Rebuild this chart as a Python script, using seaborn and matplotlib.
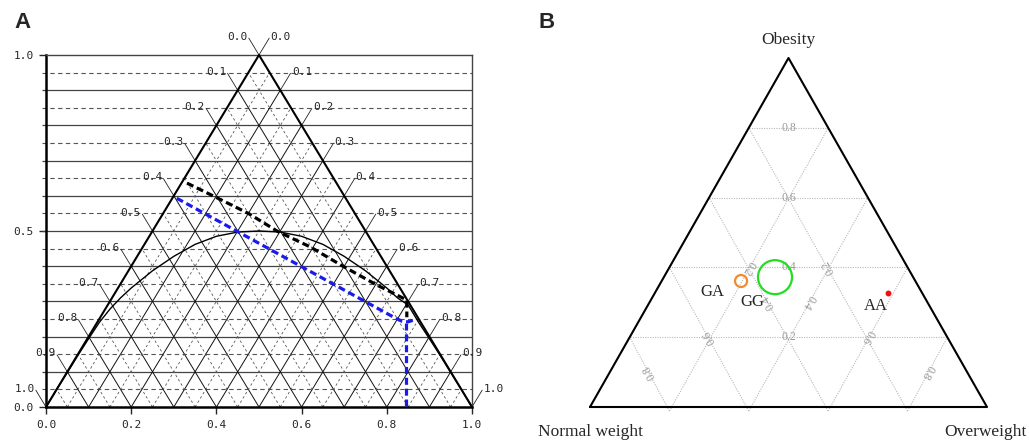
import numpy as np
import pandas as pd
import matplotlib
matplotlib.use("Agg")
import matplotlib.pyplot as plt
import seaborn as sns

sns.set_style("white")
plt.rcParams["font.family"] = ["DejaVu Sans"]

MONO = "DejaVu Sans Mono"
SERIF = "Liberation Serif"

# ---------------- panel A (De Finetti diagram) ----------------
# equilibrium curve
curve_x = [0, 0.025, 0.05, 0.075, 0.1, 0.125, 0.15, 0.175, 0.2, 0.25, 0.3, 0.35, 0.4, 0.45, 0.5,
           0.55, 0.6, 0.65, 0.7, 0.75, 0.8, 0.825, 0.85, 0.875, 0.9, 0.925, 0.95, 0.975, 1.0]
curve_y = [0, 0.05, 0.098, 0.147, 0.194, 0.24, 0.278, 0.31, 0.338, 0.387, 0.428, 0.462, 0.485,
           0.497, 0.5, 0.497, 0.485, 0.462, 0.428, 0.387, 0.338, 0.31, 0.29, 0.24, 0.194,
           0.147, 0.098, 0.05, 0]

# black dashed path
black_x = [0.331, 0.397, 0.475, 0.545, 0.62, 0.697, 0.776, 0.847, 0.847]
black_y = [0.636, 0.597, 0.55, 0.498, 0.455, 0.40, 0.347, 0.304, 0.255]

# blue dashed path and its drop to the axis
blue_x = [0.307, 0.815, 0.835, 0.85, 0.866]
blue_y = [0.593, 0.256, 0.244, 0.242, 0.248]
drop_x = [0.845, 0.845]
drop_y = [0.24, 0.0]

x_ticks = [0.0, 0.2, 0.4, 0.6, 0.8, 1.0]
y_ticks = [0.0, 0.5, 1.0]
tri_labels = [0.0, 0.1, 0.2, 0.3, 0.4, 0.5, 0.6, 0.7, 0.8, 0.9, 1.0]

# ---------------- panel B (ternary plot) ----------------
genotypes = ["GA", "GG", "AA"]
normal_w = [0.439, 0.348, 0.086]
over_w = [0.200, 0.280, 0.587]
obesity = [0.361, 0.372, 0.327]
point_colors = ["#f28a2e", "#22dd22", "#ee1111"]
point_sizes = [75, 600, 18]
point_filled = [False, False, True]
label_offsets = [(-21, -8), (-16, -18), (-9, -9.5)]
tern_grid = [0.2, 0.4, 0.6, 0.8]
corner_names = ["Obesity", "Normal weight", "Overweight"]

H = np.sqrt(3) / 2


def tern(n, o, b):
    n, o, b = np.asarray(n), np.asarray(o), np.asarray(b)
    return o + b / 2, b * H


fig = plt.figure(figsize=(10.29, 4.45), dpi=100, facecolor="w")

# ======== A ========
ax = fig.add_axes([46 / 1029, 1 - 407 / 445, 426 / 1029, 352 / 445])
ax.set_xlim(0, 1)
ax.set_ylim(0, 1)

levels = np.round(np.arange(0.1, 0.95, 0.1), 2)
halves = np.round(np.arange(0.05, 1.0, 0.1), 2)

ax.hlines(levels, -0.009, 1, colors="#444444", lw=0.9, clip_on=False, zorder=1)
ax.hlines(halves, -0.009, 1, colors="#555555", lw=0.8, linestyles=(0, (4, 3)),
          clip_on=False, zorder=1)

for t in levels:
    ax.plot([t, (1 + t) / 2], [0, 1 - t], color="#111111", lw=0.7, zorder=2)
    ax.plot([t, t / 2], [0, t], color="#111111", lw=0.7, zorder=2)
for t in halves:
    ax.plot([t, (1 + t) / 2], [0, 1 - t], color="#555555", lw=0.6,
            ls=(0, (3, 3)), zorder=2)
    ax.plot([t, t / 2], [0, t], color="#555555", lw=0.6, ls=(0, (3, 3)), zorder=2)

# triangle
ax.plot([0, 0.5, 1], [0, 1, 0], color="black", lw=1.5, zorder=3, clip_on=False)

# leader lines + labels
e = 0.048
for v in tri_labels:
    # right side: lines parallel to left edge
    px, py = (1 + v) / 2, 1 - v
    ax.plot([px, px + e / 2], [py, py + e], color="#222222", lw=0.6, clip_on=False)
    ax.text(px + e / 2 + 0.003, py + e - 0.004, f"{v:.1f}", family=MONO, fontsize=8,
            ha="left", va="baseline")
    # left side: lines parallel to right edge
    s = 1 - v
    qx, qy = s / 2, s
    ax.plot([qx, qx - e / 2], [qy, qy + e], color="#222222", lw=0.6, clip_on=False)
    ax.text(qx - e / 2 - 0.003, qy + e - 0.004, f"{v:.1f}", family=MONO, fontsize=8,
            ha="right", va="baseline")

sns.lineplot(x=curve_x, y=curve_y, sort=False, estimator=None, color="black", lw=1.0,
             ax=ax, zorder=4)
sns.lineplot(x=black_x, y=black_y, sort=False, estimator=None, color="black", lw=2.3,
             ls=(0, (2.2, 1.2)), ax=ax, zorder=5)
sns.lineplot(x=blue_x, y=blue_y, sort=False, estimator=None, color="#1a1aee", lw=2.3,
             ls=(0, (2.2, 1.2)), ax=ax, zorder=5)
sns.lineplot(x=drop_x, y=drop_y, sort=False, estimator=None, color="#1a1aee", lw=2.3,
             ls=(0, (2.2, 1.2)), ax=ax, zorder=5)

for s in ["left", "bottom"]:
    ax.spines[s].set_linewidth(1.8)
    ax.spines[s].set_color("black")
for s in ["top", "right"]:
    ax.spines[s].set_linewidth(1.0)
    ax.spines[s].set_color("#444444")

ax.set_xticks(x_ticks)
ax.set_xticklabels([f"{v:.1f}" for v in x_ticks])
ax.set_yticks(y_ticks)
ax.set_yticklabels([f"{v:.1f}" for v in y_ticks])
ax.tick_params(direction="out", length=5, width=1, labelsize=8, pad=4,
               labelfontfamily=MONO, left=True, bottom=True)
ax.set_xlabel("")
ax.set_ylabel("")

# ======== B ========
bx = fig.add_axes([590 / 1029, 1 - 407 / 445, 397 / 1029, 349 / 445])
bx.set_xlim(0, 1)
bx.set_ylim(0, H)
bx.axis("off")

gcol = "#b8b8b8"
lcol = "#9a9a9a"
for c in tern_grid:
    # obesity = c
    x0, y0 = tern(1 - c, 0, c)
    x1, y1 = tern(0, 1 - c, c)
    bx.plot([x0, x1], [y0, y1], color=gcol, lw=0.8, ls=(0, (1, 1.2)), zorder=1)
    bx.text((x0 + x1) / 2, (y0 + y1) / 2, f"{c:.1f}", family=SERIF, fontsize=8.5,
            color=lcol, ha="center", va="center", zorder=2)
    # overweight = c
    x0, y0 = tern(1 - c, c, 0)
    x1, y1 = tern(0, c, 1 - c)
    bx.plot([x0, x1], [y0 - 0.01, y1], color=gcol, lw=0.8, ls=(0, (1, 1.2)),
            zorder=1, clip_on=False)
    bx.text((x0 + x1) / 2, (y0 + y1) / 2, f"{c:.1f}", family=SERIF, fontsize=8.5,
            color=lcol, ha="center", va="center", rotation=-120, zorder=2)
    # normal weight = c
    x0, y0 = tern(c, 1 - c, 0)
    x1, y1 = tern(c, 0, 1 - c)
    bx.plot([x0, x1], [y0 - 0.01, y1], color=gcol, lw=0.8, ls=(0, (1, 1.2)),
            zorder=1, clip_on=False)
    bx.text((x0 + x1) / 2, (y0 + y1) / 2, f"{c:.1f}", family=SERIF, fontsize=8.5,
            color=lcol, ha="center", va="center", rotation=120, zorder=2)

bx.plot([0, 1, 0.5, 0], [0, 0, H, 0], color="black", lw=1.5, clip_on=False, zorder=3)

px, py = tern(normal_w, over_w, obesity)
df_b = pd.DataFrame({"genotype": genotypes, "x": px, "y": py})
for i, row in df_b.iterrows():
    if point_filled[i]:
        sns.scatterplot(x=[row.x], y=[row.y], s=point_sizes[i], color=point_colors[i],
                        edgecolor=point_colors[i], linewidth=0, ax=bx, zorder=4)
    else:
        sns.scatterplot(x=[row.x], y=[row.y], s=point_sizes[i], facecolor="none",
                        edgecolor=point_colors[i], linewidth=1.6, ax=bx, zorder=4)
    bx.annotate(row.genotype, (row.x, row.y), xytext=label_offsets[i],
                textcoords="offset points", family=SERIF, fontsize=12,
                ha="center", va="center", zorder=5)

bx.text(0.5, 0.911, corner_names[0], family=SERIF, fontsize=12.5, ha="center",
        va="center", clip_on=False)
bx.text(0.0, -0.062, corner_names[1], family=SERIF, fontsize=12.5, ha="center",
        va="center", clip_on=False)
bx.text(0.995, -0.062, corner_names[2], family=SERIF, fontsize=12.5, ha="center",
        va="center", clip_on=False)

# panel letters
fig.text(22.5 / 1029, 1 - 23 / 445, "A", family="Liberation Sans", fontweight="bold",
         fontsize=16, ha="center", va="center")
fig.text(547 / 1029, 1 - 23 / 445, "B", family="Liberation Sans", fontweight="bold",
         fontsize=16, ha="center", va="center")

fig.savefig("out.png", dpi=100, facecolor="w")
